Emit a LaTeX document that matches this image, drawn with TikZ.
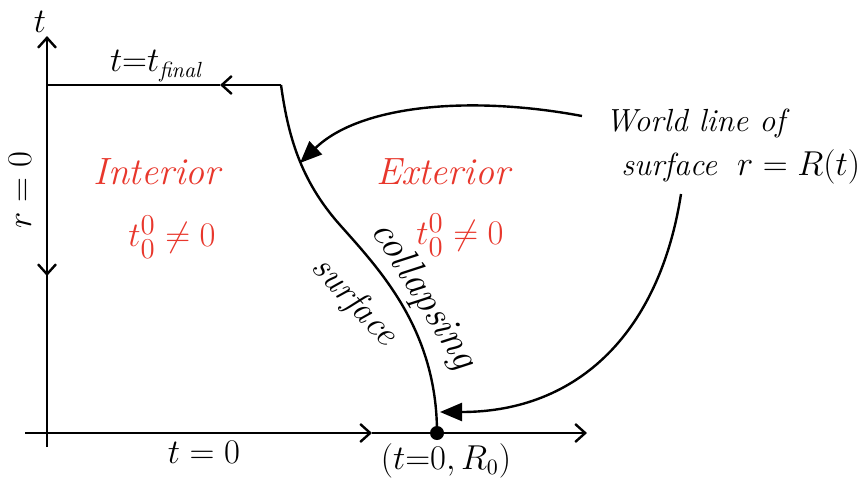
\documentclass[tikz,border=0pt]{standalone}
\usepackage{amsmath}
\usepackage{xcolor}
\usetikzlibrary{arrows.meta}

\definecolor{redtxt}{HTML}{E8372C}

\begin{document}
\begin{tikzpicture}[
    x=0.5pt, y=-0.5pt,
    axis/.style={line width=1.2pt},
    open/.style={-{Straight Barb[length=5pt,width=9pt,line width=1.2pt]}},
    pointer/.style={line width=1.2pt, -{Triangle[length=11pt,width=9pt]}},
    region/.style={text=redtxt, font=\fontsize{19}{23}\selectfont\itshape},
    lbl/.style={font=\fontsize{16}{19}\selectfont}
  ]
    \useasboundingbox (0,0) rectangle (862,477);

    % axes
    \coordinate (o) at (47,433);
    \coordinate (tbot) at (47,447);
    \coordinate (ttop) at (47,36);
    \coordinate (rleft) at (25,433);
    \coordinate (rright) at (587,433);
    \coordinate (rmid) at (372,433);
    \coordinate (tmid) at (47,276);
    \coordinate (corner) at (47,85);
    \coordinate (start) at (281,85);
    \coordinate (topmid) at (220,85);
    \coordinate (knee) at (340,225);
    \coordinate (event) at (437,433);

    \draw[axis, open] (tbot) -- (ttop);
    \draw[axis, open] (rleft) -- (rmid);
    \draw[axis, open] (rmid) -- (rright);
    \draw[axis, open] (corner) -- (tmid);
    \draw[axis] (tmid) -- (o);

    % final time line
    \draw[axis, open] (start) -- (topmid);
    \draw[axis] (topmid) -- (corner);

    % collapsing surface
    \draw[axis] (start) .. controls (288,135) and (300,180) .. (knee)
                        .. controls (380,270) and (437,330) .. (event);
    \fill (event) circle (7);

    % labels
    \node[lbl] (tlab) at (40,22) {$t$};
    \node[lbl] (tfin) at (157,66) {$t{=}t_{\mathit{final}}$};
    \node[lbl, rotate=90] (rzero) at (20,190) {$r=0$};
    \node[lbl] (tzero) at (204,452) {$t=0$};
    \node[lbl] (evlab) at (446,461) {$(t{=}0,R_0)$};

    \node[region] (inner) at (157,172) {Interior};
    \node[region] (innert) at (172,237) {$t^{0}_{0}\neq 0$};
    \node[region] (outer) at (443,172) {Exterior};
    \node[region] (outert) at (460,235) {$t^{0}_{0}\neq 0$};

    \node[lbl, rotate=-58, anchor=base, font=\fontsize{20}{22}\selectfont\itshape]
      (coll) at (415,301) {collapsing};
    \node[lbl, rotate=-47, font=\fontsize{18}{20}\selectfont\itshape]
      (surf) at (354,302) {surface};

    \node[lbl, align=left, anchor=west, inner sep=0pt] (wl) at (605,147)
      {\itshape World line of\\[3pt]\hspace*{8pt}\itshape surface\hspace*{10pt}$r=R(t)$};

    % pointers to the world line
    \coordinate (wlA) at (582,116);
    \coordinate (wlB) at (681,194);
    \draw[pointer] (wlA) .. controls (470,95) and (360,105) .. (300,163);
    \draw[pointer] (wlB) .. controls (660,330) and (580,412) .. (440,412);
\end{tikzpicture}
\end{document}
